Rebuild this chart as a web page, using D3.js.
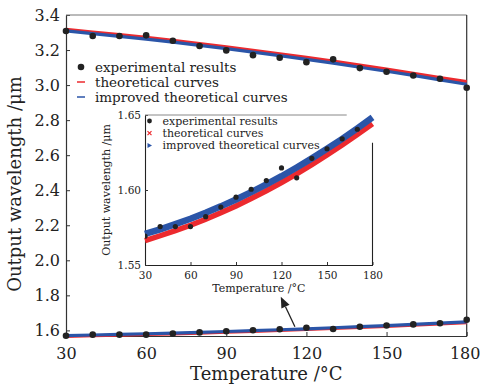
<!DOCTYPE html>
<html>
<head>
<meta charset="utf-8">
<script src="https://cdn.jsdelivr.net/npm/d3@7"></script>
<style>
body { margin: 0; background: #fff; }
text { font-family: "DejaVu Serif", serif; fill: #222; }
</style>
</head>
<body>
<div id="chart"></div>
<script>
// temperatures (°C)
const temps = [30, 40, 50, 60, 70, 80, 90, 100, 110, 120, 130, 140, 150, 160, 170, 180];

// upper branch (idler, ~3 μm)
const idlerExp = [3.309, 3.280, 3.280, 3.284, 3.253, 3.223, 3.198, 3.171, 3.156, 3.131, 3.147, 3.097, 3.076, 3.055, 3.036, 2.985];
const idlerTheory = [3.318, 3.303, 3.288, 3.272, 3.255, 3.237, 3.219, 3.199, 3.179, 3.158, 3.137, 3.114, 3.091, 3.067, 3.043, 3.020];
const idlerImproved = [3.309, 3.294, 3.278, 3.262, 3.245, 3.227, 3.208, 3.188, 3.168, 3.147, 3.125, 3.102, 3.079, 3.055, 3.030, 3.005];

// lower branch (signal, ~1.6 μm)
const signalExp = [1.5692, 1.5756, 1.5756, 1.5756, 1.5822, 1.5886, 1.5952, 1.6005, 1.6063, 1.6147, 1.6081, 1.6211, 1.6275, 1.6341, 1.6405, 1.6610];
const signalTheory = [1.5663, 1.5695, 1.5729, 1.5765, 1.5805, 1.5848, 1.5894, 1.5943, 1.5995, 1.6050, 1.6108, 1.6169, 1.6233, 1.6300, 1.6370, 1.6442];
const signalImproved = [1.5707, 1.5738, 1.5772, 1.5808, 1.5848, 1.5891, 1.5937, 1.5986, 1.6037, 1.6092, 1.6150, 1.6211, 1.6275, 1.6341, 1.6411, 1.6484];

const xTicks = [30, 60, 90, 120, 150, 180];
const yTicks = [1.6, 1.8, 2.0, 2.2, 2.4, 2.6, 2.8, 3.0, 3.2, 3.4];
const insetYTicks = [1.55, 1.60, 1.65];

const legendMain = ["experimental results", "theoretical curves", "improved theoretical curves"];

const RED = "#ec2a2e", BLUE = "#2b55a8", DOT = "#222";

const W = 480, H = 386;
const svg = d3.select("#chart").append("svg")
  .attr("width", W).attr("height", H);

const pair = arr => arr.map((v, i) => [temps[i], v]);

// ---------- main plot ----------
const x = d3.scaleLinear().domain([30, 180]).range([66, 466.7]);
const y = d3.scaleLinear().domain([1.568, 3.4]).range([336, 15]);

const line = d3.line().x(d => x(d[0])).y(d => y(d[1]));

// axes with inward ticks
const xAxis = svg.append("g")
  .attr("transform", `translate(0,${y.range()[0]})`)
  .call(d3.axisBottom(x).tickValues(xTicks).tickSizeInner(-4).tickSizeOuter(0).tickPadding(9));
const yAxis = svg.append("g")
  .attr("transform", `translate(${x.range()[0]},0)`)
  .call(d3.axisLeft(y).tickValues(yTicks).tickFormat(d3.format(".1f")).tickSizeInner(-4).tickSizeOuter(0).tickPadding(6));
[xAxis, yAxis].forEach(g => {
  g.select(".domain").attr("stroke", "#333").attr("stroke-width", 1.2);
  g.selectAll(".tick line").attr("stroke", "#333");
  g.selectAll(".tick text").style("font-size", "16px").attr("fill", "#222");
});
xAxis.selectAll(".tick text").attr("dy", "0.9em");
// keep the last label inside the window
xAxis.selectAll(".tick text").filter(d => d === 180).attr("dx", "-2");

// top and right frame
svg.append("line")
  .attr("x1", x.range()[0]).attr("x2", x.range()[1])
  .attr("y1", y.range()[1]).attr("y2", y.range()[1])
  .attr("stroke", "#777").attr("stroke-width", 1.2);
svg.append("line")
  .attr("x1", x.range()[1]).attr("x2", x.range()[1])
  .attr("y1", y.range()[1]).attr("y2", y.range()[0])
  .attr("stroke", "#333").attr("stroke-width", 1.2);

// curves
[[idlerTheory, RED], [idlerImproved, BLUE], [signalTheory, RED], [signalImproved, BLUE]].forEach(([vals, c]) => {
  svg.append("path")
    .datum(pair(vals))
    .attr("fill", "none")
    .attr("stroke", c)
    .attr("stroke-width", 3.2)
    .attr("d", line);
});

// experimental points
svg.selectAll(".dotMain")
  .data(pair(idlerExp).concat(pair(signalExp)))
  .enter().append("circle")
  .attr("cx", d => x(d[0]))
  .attr("cy", d => y(d[1]))
  .attr("r", 3.3)
  .attr("fill", DOT);

// axis titles
svg.append("text")
  .attr("x", (x.range()[0] + x.range()[1]) / 2)
  .attr("y", 380)
  .attr("text-anchor", "middle")
  .style("font-size", "18px")
  .text("Temperature /°C");
svg.append("text")
  .attr("transform", "translate(21,184) rotate(-90)")
  .attr("text-anchor", "middle")
  .style("font-size", "18px")
  .text("Output wavelength /μm");

// main legend
const leg = svg.append("g").attr("transform", "translate(81,67)");
legendMain.forEach((name, i) => {
  const gy = i * 15;
  if (i === 0) {
    leg.append("circle").attr("cx", 0).attr("cy", gy).attr("r", 3.3).attr("fill", DOT);
  } else {
    leg.append("line")
      .attr("x1", -4).attr("x2", 4).attr("y1", gy).attr("y2", gy)
      .attr("stroke", i === 1 ? RED : BLUE).attr("stroke-width", 1.5);
  }
  leg.append("text")
    .attr("x", 14).attr("y", gy).attr("dy", "0.35em")
    .style("font-size", "13.5px")
    .text(name);
});

// arrow from lower curve to inset
const arrowFrom = [115.7, 1.621], arrowTo = [110.4, 1.792];
const ax1 = x(arrowFrom[0]), ay1 = y(arrowFrom[1]);
const ax2 = x(arrowTo[0]), ay2 = y(arrowTo[1]);
const ang = Math.atan2(ay2 - ay1, ax2 - ax1);
const headL = 11, headW = 4.5;
const bx = ax2 - headL * Math.cos(ang), by = ay2 - headL * Math.sin(ang);
svg.append("line")
  .attr("x1", ax1).attr("y1", ay1).attr("x2", bx).attr("y2", by)
  .attr("stroke", "#222").attr("stroke-width", 1.3);
svg.append("path")
  .attr("d", `M${ax2},${ay2}L${bx - headW * Math.sin(ang)},${by + headW * Math.cos(ang)}L${bx + headW * Math.sin(ang)},${by - headW * Math.cos(ang)}Z`)
  .attr("fill", "#222");

// ---------- inset ----------
const ix = d3.scaleLinear().domain([30, 180]).range([145, 372.5]);
const iy = d3.scaleLinear().domain([1.55, 1.65]).range([265, 115]);
const iline = d3.line().x(d => ix(d[0])).y(d => iy(d[1]));

const inset = svg.append("g");
inset.append("rect")
  .attr("x", ix.range()[0]).attr("y", iy.range()[1])
  .attr("width", ix.range()[1] - ix.range()[0])
  .attr("height", iy.range()[0] - iy.range()[1])
  .attr("fill", "#fff");

inset.append("clipPath").attr("id", "insetClip")
  .append("rect")
  .attr("x", ix.range()[0]).attr("y", iy.range()[1])
  .attr("width", ix.range()[1] - ix.range()[0])
  .attr("height", iy.range()[0] - iy.range()[1]);

const ixAxis = inset.append("g")
  .attr("transform", `translate(0,${iy.range()[0]})`)
  .call(d3.axisBottom(ix).tickValues(xTicks).tickSizeInner(-3).tickSizeOuter(0).tickPadding(5));
const iyAxis = inset.append("g")
  .attr("transform", `translate(${ix.range()[0]},0)`)
  .call(d3.axisLeft(iy).tickValues(insetYTicks).tickFormat(d3.format(".2f")).tickSizeInner(-3).tickSizeOuter(0).tickPadding(4));
[ixAxis, iyAxis].forEach(g => {
  g.select(".domain").attr("stroke", "#222").attr("stroke-width", 1.1);
  g.selectAll(".tick line").attr("stroke", "#333");
  g.selectAll(".tick text").style("font-size", "10.5px").attr("fill", "#222");
});
ixAxis.selectAll(".tick text").attr("dy", "0.9em");

// inset top / right frame (partly hidden behind legend area)
inset.append("line")
  .attr("x1", ix.range()[0]).attr("x2", ix(163))
  .attr("y1", iy.range()[1]).attr("y2", iy.range()[1])
  .attr("stroke", "#888").attr("stroke-width", 1);
inset.append("line")
  .attr("x1", ix.range()[1]).attr("x2", ix.range()[1])
  .attr("y1", iy(1.6315)).attr("y2", iy.range()[0])
  .attr("stroke", "#222").attr("stroke-width", 1.1);

inset.append("path")
  .datum(pair(signalTheory))
  .attr("fill", "none").attr("stroke", RED).attr("stroke-width", 5.5)
  .attr("d", iline);
inset.append("path")
  .datum(pair(signalImproved))
  .attr("fill", "none").attr("stroke", BLUE).attr("stroke-width", 6.5)
  .attr("d", iline);

inset.append("g").attr("clip-path", "url(#insetClip)")
  .selectAll("circle")
  .data(pair(signalExp))
  .enter().append("circle")
  .attr("cx", d => ix(d[0]))
  .attr("cy", d => iy(d[1]))
  .attr("r", 2.6)
  .attr("fill", DOT);

inset.append("text")
  .attr("x", (ix.range()[0] + ix.range()[1]) / 2)
  .attr("y", 292)
  .attr("text-anchor", "middle")
  .style("font-size", "11px")
  .text("Temperature /°C");
inset.append("text")
  .attr("transform", `translate(110,${(iy.range()[0] + iy.range()[1]) / 2}) rotate(-90)`)
  .attr("text-anchor", "middle")
  .style("font-size", "11px")
  .text("Output wavelength /μm");

// inset legend
const ileg = inset.append("g").attr("transform", "translate(149.5,121)");
legendMain.forEach((name, i) => {
  const gy = i * 12.2;
  if (i === 0) {
    ileg.append("circle").attr("cx", 0).attr("cy", gy).attr("r", 2.4).attr("fill", DOT);
  } else if (i === 1) {
    ileg.append("path")
      .attr("d", `M-2,${gy - 2}L2,${gy + 2}M-2,${gy + 2}L2,${gy - 2}`)
      .attr("stroke", RED).attr("stroke-width", 1.2);
  } else {
    ileg.append("path")
      .attr("d", `M-2,${gy - 2.5}L2.5,${gy}L-2,${gy + 2.5}Z`)
      .attr("fill", BLUE);
  }
  ileg.append("text")
    .attr("x", 13).attr("y", gy).attr("dy", "0.35em")
    .style("font-size", "11px")
    .text(name);
});
</script>
</body>
</html>
